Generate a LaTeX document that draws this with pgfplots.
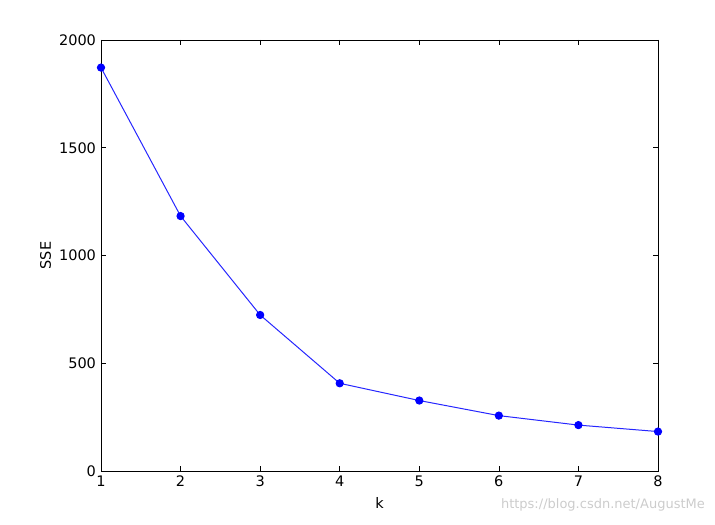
\documentclass[border=0pt]{standalone}
\usepackage{pgfplots}
\pgfplotsset{compat=1.18}
\usepackage{fontspec}
\setmainfont{DejaVu Sans}
\begin{document}
\fontsize{14.5}{17}\selectfont
\begin{tikzpicture}[x=1pt,y=1pt]
\begin{axis}[
  name=ax,
  scale only axis,
  width=557pt, height=431pt,
  xmin=1, xmax=8, ymin=0, ymax=2000,
  xtick={1,2,...,8},
  ytick={0,500,1000,1500,2000},
  tick align=inside,
  major tick length=5pt,
  xtick pos=both, ytick pos=both,
  axis line style={black, line width=0.9pt},
  tick style={black, line width=0.6pt},
  /pgf/number format/assume math mode=true,
  /pgf/number format/set thousands separator={},
  ticklabel style={font=\fontsize{14.5}{17}\selectfont},
  label style={font=\fontsize{14.5}{17}\selectfont},
  xlabel={k},
  ylabel={SSE},
  xlabel style={yshift=-1pt},
  ylabel style={yshift=-2pt},
  clip=false,
]
\addplot[color={rgb,1:red,0.15;green,0.15;blue,1}, line width=1pt, mark=*, mark size=3.6pt,
  mark options={fill=blue, draw=blue}] coordinates {
  (1,1872) (2,1183) (3,724) (4,407) (5,327) (6,257) (7,213) (8,183)
};
\end{axis}
\path (ax.south west) ++(-101pt,-53pt) coordinate (a);
\path (ax.north east) ++(57pt,40pt) coordinate (b);
\path (a) rectangle (b);
\node[anchor=east, inner sep=0pt, text=black!20, font=\fontsize{13}{15}\selectfont] at ([xshift=47pt,yshift=-34pt]ax.south east) {https://blog.csdn.net/AugustMe};
\end{tikzpicture}
\end{document}
